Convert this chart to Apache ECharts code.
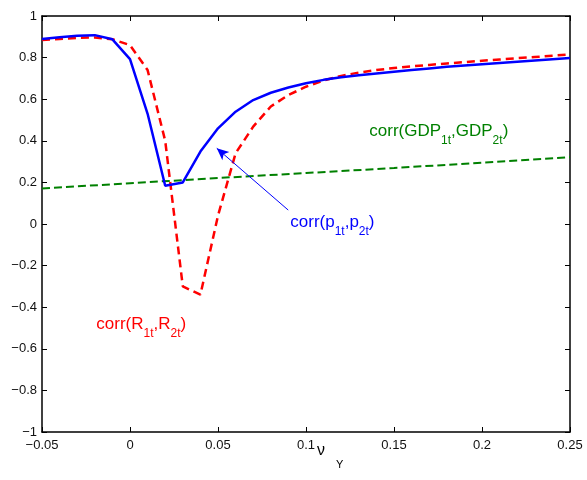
<!DOCTYPE html>
<html>
<head>
<meta charset="utf-8">
<script src="https://cdn.jsdelivr.net/npm/echarts@6/dist/echarts.min.js"></script>
<style>html,body{margin:0;padding:0;background:#fff}#c{width:587px;height:480px}</style>
</head>
<body>
<div id="c"></div>
<script>
// x values (nu_Y)
var xBlue = [-0.05,-0.04,-0.03,-0.02,-0.01,0,0.01,0.02,0.03,0.04,0.05,0.06,0.07,0.08,0.09,0.1,0.11,0.12,0.13,0.14,0.15,0.16,0.17,0.18,0.19,0.2,0.21,0.22,0.23,0.24,0.25];
var corrP = [0.889,0.898,0.905,0.908,0.888,0.793,0.53,0.184,0.20,0.348,0.46,0.54,0.596,0.631,0.656,0.677,0.693,0.705,0.715,0.724,0.732,0.740,0.748,0.756,0.762,0.768,0.774,0.780,0.786,0.792,0.798];
var xRed = [-0.05,-0.04,-0.03,-0.02,-0.01,0,0.01,0.02,0.03,0.04,0.05,0.06,0.07,0.08,0.09,0.1,0.11,0.12,0.13,0.14,0.15,0.16,0.17,0.18,0.19,0.2,0.21,0.22,0.23,0.24,0.25];
var corrR = [0.885,0.890,0.895,0.897,0.888,0.86,0.74,0.40,-0.30,-0.34,0.04,0.34,0.468,0.565,0.62,0.66,0.69,0.712,0.728,0.740,0.750,0.758,0.765,0.772,0.778,0.785,0.791,0.797,0.803,0.809,0.815];
var xGreen = [-0.05,0,0.05,0.1,0.15,0.2,0.25];
var corrGDP = [0.171,0.196,0.221,0.245,0.269,0.295,0.321];
var xTicks = {min:-0.05, max:0.25, interval:0.05};
var yTicks = {min:-1, max:1, interval:0.2};
var arrowFrom = [0.0899, 0.067];
var arrowTo = [0.0493, 0.364];

function pairs(xs, ys){ return xs.map(function(x,i){ return [x, ys[i]]; }); }
function fmt(v){ var r = Math.round(v*100)/100; return String(r).replace('-', '\u2212'); }

var FONT = 'Liberation Sans, Arial, Helvetica, sans-serif';
var tickStyle = {show:true, inside:true, length:5, lineStyle:{color:'#000', width:1}};
var lineAx = {show:true, onZero:false, lineStyle:{color:'#000', width:1.5}};

function richFor(color){
  return {
    z:{fontSize:1, lineHeight:24, verticalAlign:'top', fill:color},
    a:{fontSize:17, lineHeight:20, verticalAlign:'top', fill:color, fontFamily:FONT},
    s:{fontSize:12, lineHeight:12, verticalAlign:'bottom', fill:color, fontFamily:FONT}
  };
}

var chart = echarts.init(document.getElementById('c'));
chart.setOption({
  animation:false,
  backgroundColor:'#fff',
  grid:{left:42, right:17, top:16, bottom:48, containLabel:false},
  xAxis:[
    {type:'value', min:xTicks.min, max:xTicks.max, interval:xTicks.interval, position:'bottom',
     axisLine:lineAx, axisTick:tickStyle, splitLine:{show:false},
     axisLabel:{formatter:fmt, color:'#111', fontSize:13, fontFamily:FONT, margin:7}},
    {type:'value', min:xTicks.min, max:xTicks.max, interval:xTicks.interval, position:'top',
     axisLine:lineAx, axisTick:tickStyle, splitLine:{show:false}, axisLabel:{show:false}}
  ],
  yAxis:[
    {type:'value', min:yTicks.min, max:yTicks.max, interval:yTicks.interval, position:'left',
     axisLine:lineAx, axisTick:tickStyle, splitLine:{show:false},
     axisLabel:{formatter:fmt, color:'#111', fontSize:13, fontFamily:FONT, margin:5}},
    {type:'value', min:yTicks.min, max:yTicks.max, interval:yTicks.interval, position:'right',
     axisLine:lineAx, axisTick:tickStyle, splitLine:{show:false}, axisLabel:{show:false}}
  ],
  series:[
    {type:'line', data:pairs(xGreen, corrGDP), showSymbol:false, silent:true,
     lineStyle:{color:'#008000', width:2, type:[8,4]}},
    {type:'line', data:pairs(xRed, corrR), showSymbol:false, silent:true,
     lineStyle:{color:'#ff0000', width:2.5, type:[8,5]}},
    {type:'line', data:pairs(xBlue, corrP), showSymbol:false, silent:true,
     lineStyle:{color:'#0000ff', width:2.5},
     markLine:{silent:true, symbol:['none','arrow'], symbolSize:[8,12], animation:false,
       lineStyle:{color:'#0000ff', width:1, type:'solid'}, label:{show:false},
       data:[[{coord:arrowFrom},{coord:arrowTo}]]}}
  ],
  graphic:[
    {type:'text', x:369, y:123, style:{text:'{z| }{a|corr(GDP}{s|1t}{a|,GDP}{s|2t}{a|)}', rich:richFor('#008000'), fill:'#008000'}},
    {type:'text', x:290, y:214, style:{text:'{z| }{a|corr(p}{s|1t}{a|,p}{s|2t}{a|)}', rich:richFor('#0000ff'), fill:'#0000ff'}},
    {type:'text', x:96, y:316, style:{text:'{z| }{a|corr(R}{s|1t}{a|,R}{s|2t}{a|)}', rich:richFor('#ff0000'), fill:'#ff0000'}},
    {type:'text', x:317, y:443, style:{text:'\u03bd', fill:'#000', font:'16px ' + FONT}},
    {type:'text', x:336, y:459, style:{text:'Y', fill:'#000', font:'11px ' + FONT}}
  ]
});
</script>
</body>
</html>
